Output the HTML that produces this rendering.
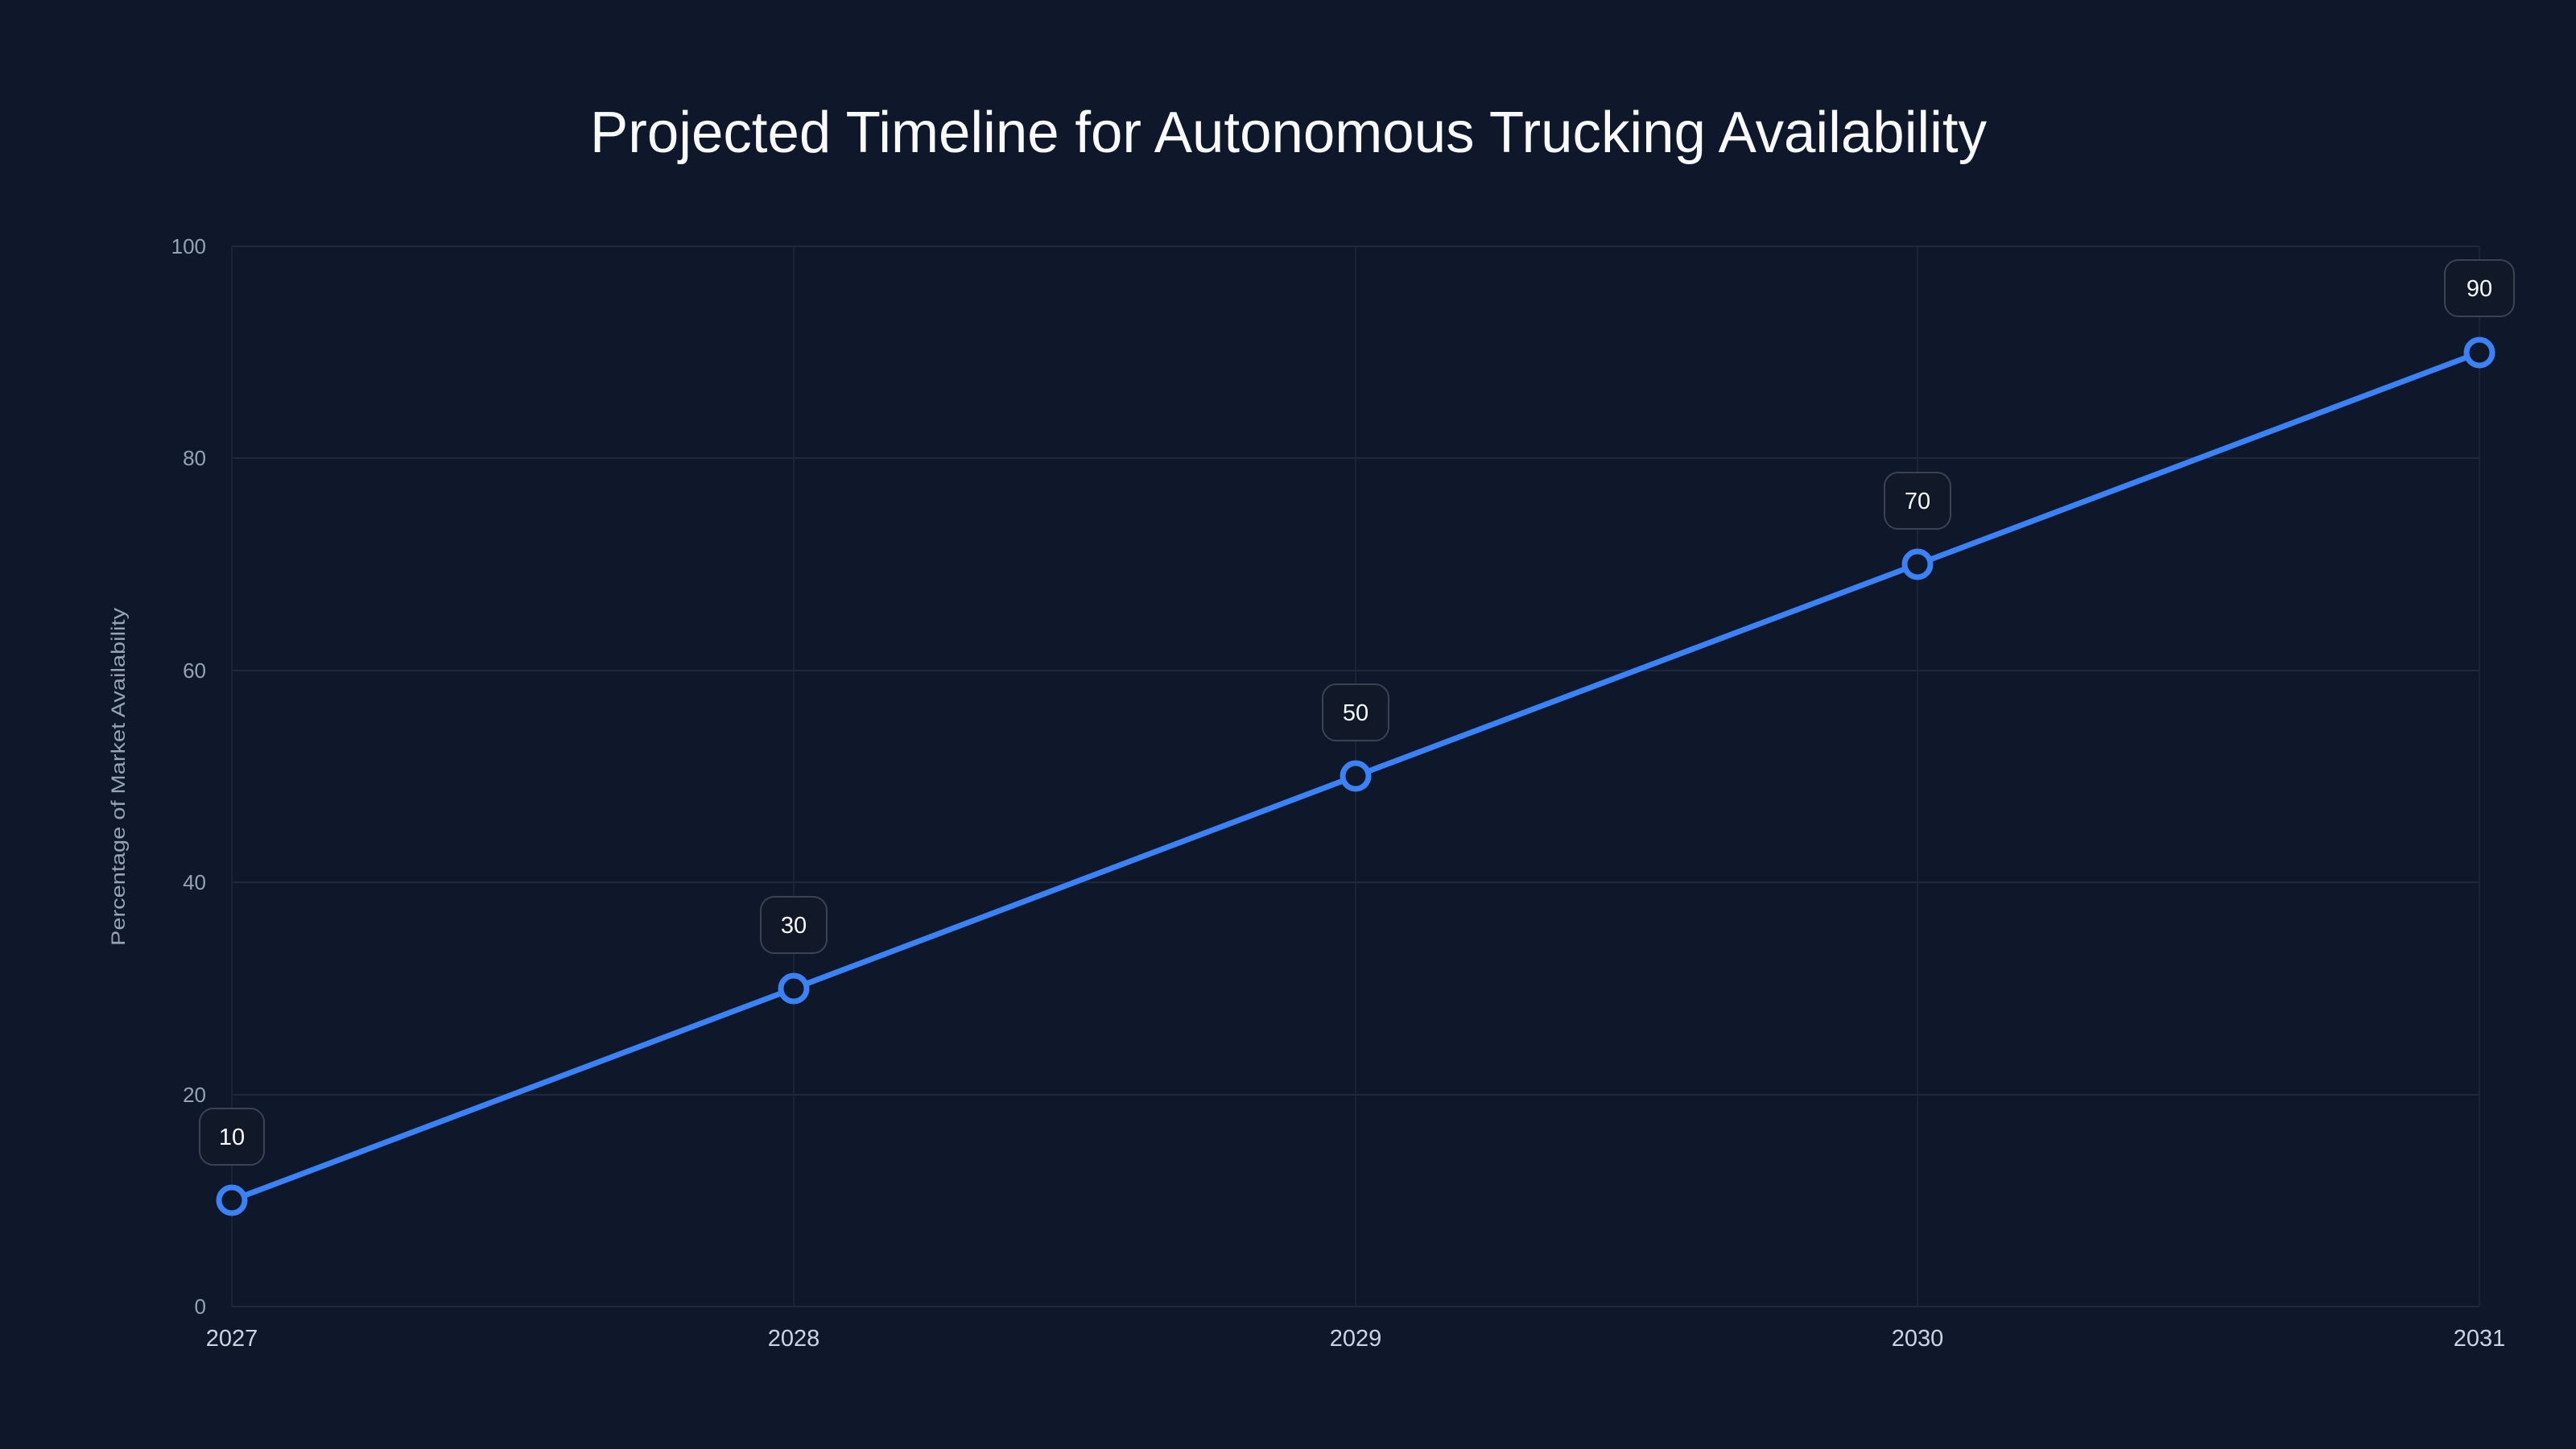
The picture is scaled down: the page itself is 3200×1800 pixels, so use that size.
<!DOCTYPE html>
<html><head><meta charset="utf-8"><style>
html,body{margin:0;padding:0;background:#0f172a;}
svg{display:block;}
text{font-family:"Liberation Sans",sans-serif;}
</style></head><body>
<svg width="3200" height="1800" viewBox="0 0 3200 1800" xmlns="http://www.w3.org/2000/svg">
<rect width="3200" height="1800" fill="#0f172a"/>
<text x="733" y="189" font-size="72" fill="#f8fafc" textLength="1735" lengthAdjust="spacingAndGlyphs">Projected Timeline for Autonomous Trucking Availability</text>
<g stroke="#1e293b" stroke-width="2">
<line x1="288" y1="306" x2="3080" y2="306"/>
<line x1="288" y1="569" x2="3080" y2="569"/>
<line x1="288" y1="833" x2="3080" y2="833"/>
<line x1="288" y1="1096" x2="3080" y2="1096"/>
<line x1="288" y1="1360" x2="3080" y2="1360"/>
<line x1="288" y1="1623" x2="3080" y2="1623"/>
</g>
<g stroke="#19233a" stroke-width="2">
<line x1="288" y1="306" x2="288" y2="1623"/>
<line x1="986" y1="306" x2="986" y2="1623"/>
<line x1="1684" y1="306" x2="1684" y2="1623"/>
<line x1="2382" y1="306" x2="2382" y2="1623"/>
<line x1="3080" y1="306" x2="3080" y2="1623"/>
</g>
<g font-size="26" fill="#94a3b8" text-anchor="end">
<text x="256" y="315">100</text>
<text x="256" y="578">80</text>
<text x="256" y="842">60</text>
<text x="256" y="1105">40</text>
<text x="256" y="1369">20</text>
<text x="256" y="1632">0</text>
</g>
<g font-size="29" fill="#cbd5e1" text-anchor="middle">
<text x="288" y="1672">2027</text>
<text x="986" y="1672">2028</text>
<text x="1684" y="1672">2029</text>
<text x="2382" y="1672">2030</text>
<text x="3080" y="1672">2031</text>
</g>
<text transform="translate(155,965) rotate(-90)" font-size="24" fill="#94a3b8" text-anchor="middle" textLength="420" lengthAdjust="spacingAndGlyphs">Percentage of Market Availability</text>
<polyline points="288,1491 986,1228 1684,964 2382,701 3080,438" fill="none" stroke="#3b82f6" stroke-width="7" stroke-linejoin="round"/>
<g fill="#0f172a" stroke="#3b82f6" stroke-width="7">
<circle cx="288" cy="1491" r="16"/>
<circle cx="986" cy="1228" r="16"/>
<circle cx="1684" cy="964" r="16"/>
<circle cx="2382" cy="701" r="16"/>
<circle cx="3080" cy="438" r="16"/>
</g>
<g fill="#111827" stroke="#3a4354" stroke-width="2">
<rect x="248" y="1377" width="80" height="70" rx="17"/>
<rect x="945" y="1114" width="82" height="70" rx="17"/>
<rect x="1643" y="850" width="82" height="70" rx="17"/>
<rect x="2341" y="587" width="82" height="70" rx="17"/>
<rect x="3037" y="323" width="86" height="70" rx="17"/>
</g>
<g font-size="29" fill="#f8fafc" text-anchor="middle">
<text x="288" y="1422">10</text>
<text x="986" y="1159">30</text>
<text x="1684" y="895">50</text>
<text x="2382" y="632">70</text>
<text x="3080" y="368">90</text>
</g>
</svg>
</body></html>
